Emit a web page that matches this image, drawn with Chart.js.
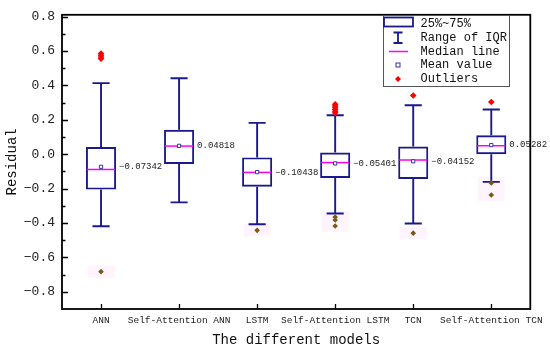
<!DOCTYPE html>
<html>
<head>
<meta charset="utf-8">
<script src="https://cdn.jsdelivr.net/npm/chart.js@4.4.0/dist/chart.umd.min.js"></script>
<style>
html, body { margin: 0; padding: 0; background: #fff; }
#wrap { width: 550px; height: 349px; }
</style>
</head>
<body>
<div id="wrap"><canvas id="chart"></canvas></div>
<script>
// Данные графика
const models = ['ANN', 'Self-Attention ANN', 'LSTM', 'Self-Attention LSTM', 'TCN', 'Self-Attention TCN'];
const q1 = [-0.206, -0.057, -0.189, -0.138, -0.144, 0.000];
const q3 = [0.041, 0.142, -0.019, 0.009, 0.044, 0.110];
const medians = [-0.089, 0.047, -0.106, -0.049, -0.034, 0.049];
const means = [-0.07342, 0.04818, -0.10438, -0.05401, -0.04152, 0.05282];
const whiskerLow = [-0.419, -0.280, -0.407, -0.345, -0.403, -0.161];
const whiskerHigh = [0.413, 0.441, 0.182, 0.226, 0.284, 0.260];
const upperOutliers = [
    [0.555, 0.565, 0.575, 0.585],
    [],
    [],
    [0.24, 0.25, 0.26, 0.27, 0.28, 0.29],
    [0.341],
    [0.303]
];
const lowerOutliers = [
    [-0.683],
    [],
    [-0.443],
    [-0.365, -0.383, -0.418],
    [-0.459],
    [-0.167, -0.237]
];
const yTicks = [-0.8, -0.6, -0.4, -0.2, 0.0, 0.2, 0.4, 0.6, 0.8];
const yMinorTicks = [-0.7, -0.5, -0.3, -0.1, 0.1, 0.3, 0.5, 0.7];

const FONT = "'Liberation Mono', 'DejaVu Sans Mono', monospace";
const BOX_COLOR = '#1a1a8c';
const MEDIAN_COLOR = '#ff00ee';

const fmt = v => (v < 0 ? '\u2212' : '') + Math.abs(v).toFixed(1);
const fmtMean = v => (v < 0 ? '\u2212' : '') + Math.abs(v).toFixed(5);

const toPoints = list => list.flatMap((arr, i) => arr.map(v => ({ x: models[i], y: v })));

// Усы, медианы, розовая подложка, подписи средних, рамка и легенда
const boxPlugin = {
    id: 'boxPlugin',
    beforeDatasetsDraw(chart) {
        const ctx = chart.ctx;
        const y = chart.scales.y;
        const meta = chart.getDatasetMeta(0);
        ctx.save();
        ctx.fillStyle = 'rgba(255, 215, 245, 0.3)';
        meta.data.forEach((bar, i) => {
            const arr = lowerOutliers[i];
            if (!arr.length) return;
            const top = y.getPixelForValue(Math.max(...arr)) - 6;
            const bottom = y.getPixelForValue(Math.min(...arr)) + 6;
            const w = bar.width * 0.9;
            ctx.fillRect(bar.x - w / 2, top, w, bottom - top);
        });
        ctx.restore();
    },
    afterDatasetDraw(chart, args) {
        if (args.index !== 0) return;
        const ctx = chart.ctx;
        const y = chart.scales.y;
        ctx.save();
        args.meta.data.forEach((bar, i) => {
            const x = bar.x;
            const w = bar.width;
            const cap = w * 0.57;
            ctx.strokeStyle = BOX_COLOR;
            ctx.lineWidth = 1.9;
            ctx.beginPath();
            ctx.moveTo(x, y.getPixelForValue(q3[i]));
            ctx.lineTo(x, y.getPixelForValue(whiskerHigh[i]));
            ctx.moveTo(x, y.getPixelForValue(q1[i]));
            ctx.lineTo(x, y.getPixelForValue(whiskerLow[i]));
            ctx.moveTo(x - cap / 2, y.getPixelForValue(whiskerHigh[i]));
            ctx.lineTo(x + cap / 2, y.getPixelForValue(whiskerHigh[i]));
            ctx.moveTo(x - cap / 2, y.getPixelForValue(whiskerLow[i]));
            ctx.lineTo(x + cap / 2, y.getPixelForValue(whiskerLow[i]));
            ctx.stroke();
            ctx.strokeStyle = MEDIAN_COLOR;
            ctx.lineWidth = 1.5;
            ctx.beginPath();
            ctx.moveTo(x - w / 2 + 1, y.getPixelForValue(medians[i]));
            ctx.lineTo(x + w / 2 - 1, y.getPixelForValue(medians[i]));
            ctx.stroke();
        });
        ctx.restore();
    },
    afterDraw(chart) {
        const ctx = chart.ctx;
        const { left, right, top, bottom } = chart.chartArea;
        const y = chart.scales.y;
        const x = chart.scales.x;
        ctx.save();

        // подписи средних значений
        ctx.fillStyle = '#222';
        ctx.font = '9px ' + FONT;
        ctx.textBaseline = 'middle';
        ctx.textAlign = 'left';
        chart.getDatasetMeta(0).data.forEach((bar, i) => {
            ctx.fillText(fmtMean(means[i]), bar.x + bar.width / 2 + 3, y.getPixelForValue(means[i]));
        });

        // рамка и засечки внутрь
        ctx.strokeStyle = '#000';
        ctx.lineWidth = 1.8;
        ctx.strokeRect(left, top, right - left, bottom - top);
        ctx.lineWidth = 1.3;
        ctx.beginPath();
        yTicks.forEach(v => {
            const py = Math.round(y.getPixelForValue(v)) + 0.5;
            ctx.moveTo(left, py);
            ctx.lineTo(left + 6, py);
        });
        yMinorTicks.forEach(v => {
            const py = Math.round(y.getPixelForValue(v)) + 0.5;
            ctx.moveTo(left, py);
            ctx.lineTo(left + 3.5, py);
        });
        models.forEach((m, i) => {
            const px = Math.round(x.getPixelForValue(i)) + 0.5;
            ctx.moveTo(px, bottom);
            ctx.lineTo(px, bottom - 5);
        });
        ctx.stroke();

        // легенда
        const lx = 383, ly = 15, lw = 126, lh = 71;
        ctx.fillStyle = '#fff';
        ctx.fillRect(lx, ly, lw, lh);
        ctx.strokeStyle = '#555';
        ctx.lineWidth = 1;
        ctx.strokeRect(lx + 0.5, ly + 0.5, lw, lh);
        const rows = ['25%~75%', 'Range of IQR', 'Median line', 'Mean value', 'Outliers'];
        const rowY = [24, 37.7, 51.5, 65, 79];
        const sx = 398;
        ctx.fillStyle = '#111';
        ctx.font = '12px ' + FONT;
        ctx.textBaseline = 'middle';
        rows.forEach((t, i) => ctx.fillText(t, 420.5, rowY[i]));
        ctx.strokeStyle = BOX_COLOR;
        ctx.lineWidth = 1.8;
        ctx.strokeRect(384, 17.5, 29, 9);
        ctx.beginPath();
        ctx.moveTo(sx, 32.5); ctx.lineTo(sx, 43);
        ctx.moveTo(sx - 4.5, 32.5); ctx.lineTo(sx + 4.5, 32.5);
        ctx.moveTo(sx - 4.5, 43); ctx.lineTo(sx + 4.5, 43);
        ctx.stroke();
        ctx.strokeStyle = MEDIAN_COLOR;
        ctx.lineWidth = 1.5;
        ctx.beginPath();
        ctx.moveTo(389, rowY[2]); ctx.lineTo(408, rowY[2]);
        ctx.stroke();
        ctx.strokeStyle = '#3333b0';
        ctx.lineWidth = 1;
        ctx.strokeRect(sx - 2, rowY[3] - 2, 4, 4);
        ctx.fillStyle = '#ff0000';
        ctx.beginPath();
        ctx.moveTo(sx, rowY[4] - 3); ctx.lineTo(sx + 3, rowY[4]);
        ctx.lineTo(sx, rowY[4] + 3); ctx.lineTo(sx - 3, rowY[4]);
        ctx.closePath();
        ctx.fill();
        ctx.restore();
    }
};

const ctx = document.getElementById('chart').getContext('2d');
new Chart(ctx, {
    type: 'bar',
    data: {
        labels: models,
        datasets: [
            {
                label: '25%~75%',
                data: q1.map((v, i) => [v, q3[i]]),
                backgroundColor: 'rgba(255,255,255,0)',
                borderColor: BOX_COLOR,
                borderWidth: 1.9,
                borderSkipped: false,
                barPercentage: 0.385,
                categoryPercentage: 1,
                order: 3
            },
            {
                type: 'line',
                label: 'Outliers',
                data: toPoints(upperOutliers),
                showLine: false,
                pointStyle: 'rectRot',
                pointRadius: 3.3,
                pointBackgroundColor: '#ff0000',
                pointBorderColor: '#ff0000',
                pointBorderWidth: 0,
                order: 2
            },
            {
                type: 'line',
                label: 'Outliers low',
                data: toPoints(lowerOutliers),
                showLine: false,
                pointStyle: 'rectRot',
                pointRadius: 2.8,
                pointBackgroundColor: '#7a5a14',
                pointBorderColor: '#7a5a14',
                pointBorderWidth: 0,
                order: 2
            },
            {
                type: 'line',
                label: 'Mean value',
                data: means,
                showLine: false,
                pointStyle: 'rect',
                pointRadius: 2.3,
                pointBackgroundColor: '#fff',
                pointBorderColor: '#3333b0',
                pointBorderWidth: 1,
                order: 1
            }
        ]
    },
    options: {
        responsive: true,
        maintainAspectRatio: false,
        animation: false,
        devicePixelRatio: 1,
        layout: { padding: { top: 8, right: 17, left: 0, bottom: 0 } },
        plugins: {
            legend: { display: false },
            tooltip: { enabled: false }
        },
        scales: {
            x: {
                type: 'category',
                offset: true,
                grid: { display: false, drawTicks: false, tickLength: 0 },
                border: { display: false },
                ticks: {
                    color: '#222',
                    font: { family: FONT, size: 9.5 },
                    padding: 6,
                    maxRotation: 0,
                    autoSkip: false
                },
                title: {
                    display: true,
                    text: 'The different models',
                    color: '#111',
                    font: { family: FONT, size: 14 },
                    padding: { top: 3, bottom: 0 }
                },
                afterFit(scale) { scale.height = 40; }
            },
            y: {
                min: -0.9,
                max: 0.81,
                grid: { display: false, drawTicks: false, tickLength: 0 },
                border: { display: false },
                afterBuildTicks(scale) { scale.ticks = yTicks.map(v => ({ value: v })); },
                ticks: {
                    color: '#222',
                    font: { family: FONT, size: 13 },
                    padding: 7,
                    callback: v => fmt(v)
                },
                title: {
                    display: true,
                    text: 'Residual',
                    color: '#111',
                    font: { family: FONT, size: 14 },
                    padding: { top: 4, bottom: 0 }
                },
                afterFit(scale) { scale.width = 62; }
            }
        }
    },
    plugins: [boxPlugin]
});
</script>
</body>
</html>
